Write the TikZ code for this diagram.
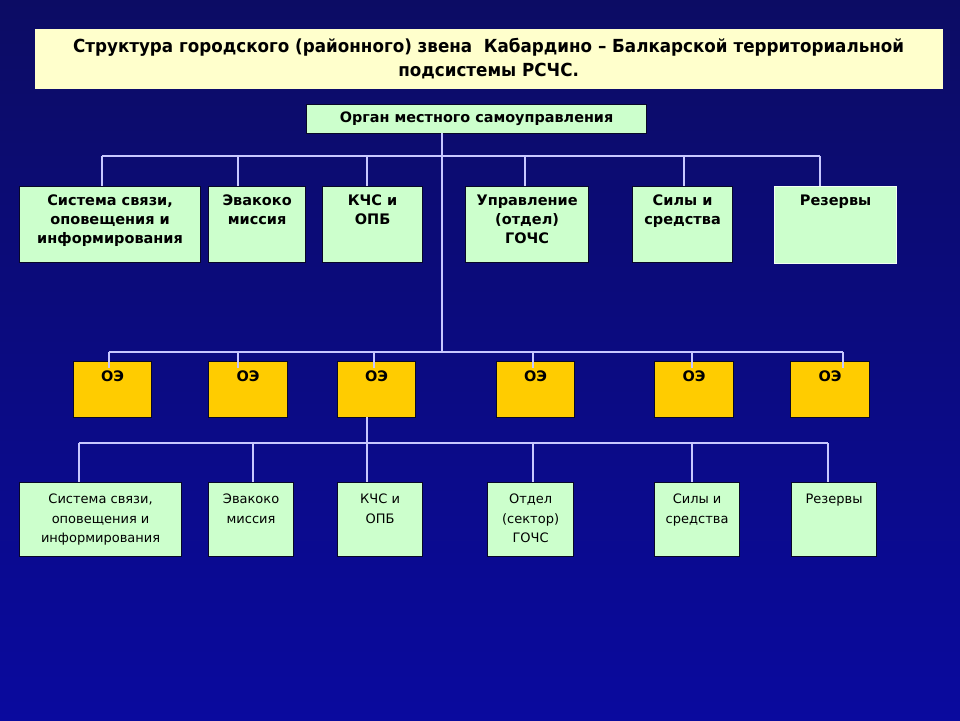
\documentclass[tikz,border=0pt]{standalone}
\usepackage{fontspec}
\setmainfont{DejaVu Sans}
\newfontfamily\titlefont[FakeStretch=0.93]{DejaVu Sans}
\definecolor{bgtop}{RGB}{12,12,100}
\definecolor{bgbot}{RGB}{10,10,158}
\definecolor{titlefill}{RGB}{255,255,204}
\definecolor{greenfill}{RGB}{204,255,204}
\definecolor{oefill}{RGB}{255,204,0}
\definecolor{linecol}{RGB}{200,200,255}
\definecolor{edgecol}{RGB}{8,8,40}
\begin{document}
\begin{tikzpicture}[x=1pt,y=-1pt,
  box/.style={draw=edgecol, line width=1.2pt, inner sep=0pt, anchor=north west},
  gbox/.style={box, fill=greenfill},
  obox/.style={box, fill=oefill},
  btext/.style={font=\bfseries\fontsize{14.5}{19}\selectfont, align=center, anchor=north, inner sep=0pt},
  rtext/.style={font=\fontsize{13}{19.5}\selectfont, align=center, anchor=north, inner sep=0pt},
  conn/.style={draw=linecol, line width=1.3pt}]
\useasboundingbox (0,0) rectangle (960,720);
\fill[top color=bgtop, bottom color=bgbot] (0,0) rectangle (960,720);

% title
\node[box, draw=none, fill=titlefill, minimum width=908pt, minimum height=60pt] (title) at (34,28) {};
\node[font=\titlefont\bfseries\fontsize{18}{24}\selectfont, align=center, inner sep=0pt] (titletext) at (title.center)
  {Структура городского (районного) звена\ \ Кабардино – Балкарской территориальной\\подсистемы РСЧС.};

% top organ
\node[gbox, minimum width=340pt, minimum height=29pt] (org) at (306,104) {};
\node[font=\bfseries\fontsize{14.4}{17}\selectfont, inner sep=0pt] (orgtext) at (org.center) {Орган местного самоуправления};

% level 1 boxes
\node[gbox, minimum width=181pt, minimum height=76pt] (s1) at (19,186) {};
\node[gbox, minimum width=97pt, minimum height=76pt] (s2) at (208,186) {};
\node[gbox, minimum width=100pt, minimum height=76pt] (s3) at (322,186) {};
\node[gbox, minimum width=123pt, minimum height=76pt] (s4) at (465,186) {};
\node[gbox, minimum width=100pt, minimum height=76pt] (s5) at (632,186) {};
\node[gbox, draw=white!75!greenfill, minimum width=122pt, minimum height=77pt] (s6) at (774,186) {};
\node[btext] (s1t) at ([yshift=-9pt]s1.north) {Система связи,\\оповещения и\\информирования};
\node[btext] (s2t) at ([yshift=-9pt]s2.north) {Эвакоко\\миссия};
\node[btext] (s3t) at ([yshift=-9pt]s3.north) {КЧС и\\ОПБ};
\node[btext] (s4t) at ([yshift=-9pt]s4.north) {Управление\\(отдел)\\ГОЧС};
\node[btext] (s5t) at ([yshift=-9pt]s5.north) {Силы и\\средства};
\node[btext] (s6t) at ([yshift=-9pt]s6.north) {Резервы};

% OE boxes
\node[obox, minimum width=78pt, minimum height=56pt] (o1) at (73,361) {};
\node[obox, minimum width=79pt, minimum height=56pt] (o2) at (208,361) {};
\node[obox, minimum width=78pt, minimum height=56pt] (o3) at (337,361) {};
\node[obox, minimum width=78pt, minimum height=56pt] (o4) at (496,361) {};
\node[obox, minimum width=79pt, minimum height=56pt] (o5) at (654,361) {};
\node[obox, minimum width=79pt, minimum height=56pt] (o6) at (790,361) {};
\foreach \i in {1,...,6}{
  \node[btext] (o\i t) at ([yshift=-10pt]o\i.north) {ОЭ};
}

% bottom boxes
\node[gbox, minimum width=162pt, minimum height=74pt] (b1) at (19,482) {};
\node[gbox, minimum width=85pt, minimum height=74pt] (b2) at (208,482) {};
\node[gbox, minimum width=85pt, minimum height=74pt] (b3) at (337,482) {};
\node[gbox, minimum width=86pt, minimum height=74pt] (b4) at (487,482) {};
\node[gbox, minimum width=85pt, minimum height=74pt] (b5) at (654,482) {};
\node[gbox, minimum width=85pt, minimum height=74pt] (b6) at (791,482) {};
\node[rtext] (b1t) at ([yshift=-12pt]b1.north) {Система связи,\\оповещения и\\информирования};
\node[rtext] (b2t) at ([yshift=-12pt]b2.north) {Эвакоко\\миссия};
\node[rtext] (b3t) at ([yshift=-12pt]b3.north) {КЧС и\\ОПБ};
\node[rtext] (b4t) at ([yshift=-12pt]b4.north) {Отдел\\(сектор)\\ГОЧС};
\node[rtext] (b5t) at ([yshift=-12pt]b5.north) {Силы и\\средства};
\node[rtext] (b6t) at ([yshift=-12pt]b6.north) {Резервы};

% connector coordinates
\coordinate (m0) at (442,133);
\coordinate (busB) at (0,352);
\coordinate (a1) at (102,156);
\coordinate (a2) at (238,156);
\coordinate (a3) at (367,156);
\coordinate (a4) at (525,156);
\coordinate (a5) at (684,156);
\coordinate (a6) at (820,156);
\coordinate (e1) at (109,352);
\coordinate (e2) at (238,352);
\coordinate (e3) at (374,352);
\coordinate (e4) at (533,352);
\coordinate (e5) at (692,352);
\coordinate (e6) at (843,352);
\coordinate (c0) at (367,417);
\coordinate (c1) at (79,443);
\coordinate (c2) at (253,443);
\coordinate (c3) at (367,443);
\coordinate (c4) at (533,443);
\coordinate (c5) at (692,443);
\coordinate (c6) at (828,443);

% connectors
\draw[conn] (m0) -- (m0 |- busB);
\draw[conn] (a1) -- (a6);
\foreach \i in {1,...,6}{ \draw[conn] (a\i) -- (a\i |- s\i.north); }
\draw[conn] (e1) -- (e6);
\foreach \i in {1,...,6}{ \draw[conn] (e\i) -- ([yshift=-7pt]e\i |- o\i.north); }
\draw[conn] (c0) -- (c3);
\draw[conn] (c1) -- (c6);
\foreach \i in {1,...,6}{ \draw[conn] (c\i) -- (c\i |- b\i.north); }
\end{tikzpicture}
\end{document}
